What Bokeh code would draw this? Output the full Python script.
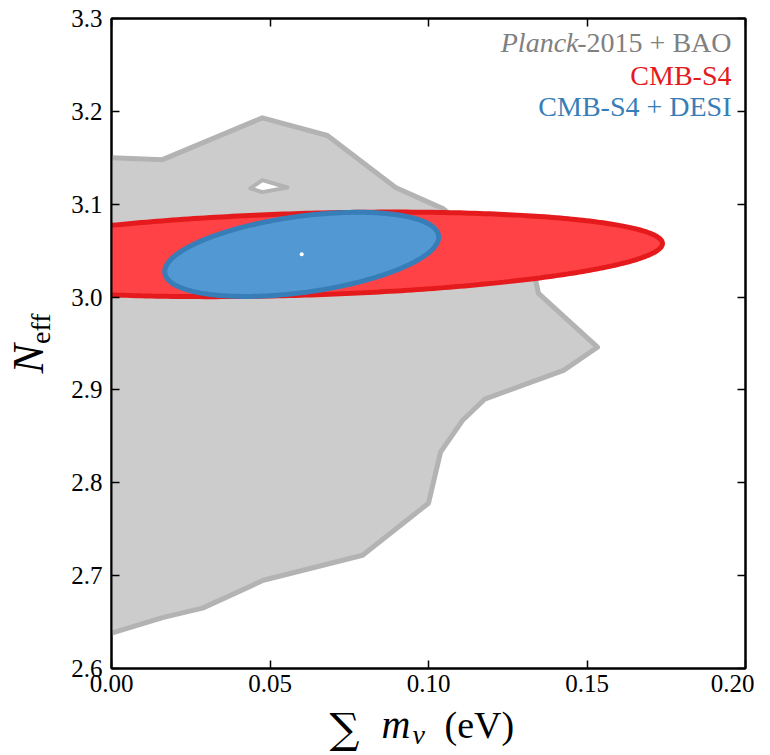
import numpy as np
from bokeh.plotting import figure
from bokeh.layouts import row, column
from bokeh.models import Range1d, FixedTicker, LinearAxis, Label, PrintfTickFormatter, CustomJSTickFormatter
from bokeh.embed import file_html
from bokeh.resources import INLINE

# ---------------- data ----------------
# Planck-2015 + BAO contour (outer boundary, closed along the x=0 axis)
planck_mnu = [0.0, 0.0161, 0.0476, 0.0681, 0.0896, 0.1047, 0.1338, 0.1347, 0.1533,
              0.1426, 0.1177, 0.1107, 0.1038, 0.1000, 0.0792, 0.0479, 0.0287, 0.0164, 0.0]
planck_neff = [3.150, 3.148, 3.193, 3.174, 3.118, 3.095, 3.018, 3.004, 2.946,
               2.921, 2.890, 2.867, 2.833, 2.778, 2.722, 2.695, 2.665, 2.655, 2.638]
# small island (hole) in the Planck contour
hole_mnu = [0.0438, 0.0476, 0.0555, 0.0476, 0.0438]
hole_neff = [3.117, 3.126, 3.118, 3.113, 3.117]

# fiducial point
fid_mnu = 0.060
fid_neff = 3.046

# forecast ellipses: half-extents along x and y, and correlation
s4_sx, s4_sy, s4_rho = 0.1138, 0.04553, 0.2569
desi_sx, desi_sy, desi_rho = 0.0432, 0.0453, 0.4103

x_ticks = [0.00, 0.05, 0.10, 0.15, 0.20]
y_ticks = [2.6, 2.7, 2.8, 2.9, 3.0, 3.1, 3.2, 3.3]
legend_texts = ["-2015 + BAO", "CMB-S4", "CMB-S4 + DESI"]
legend_italic = "Planck"

# ---------------- layout constants (page pixels) ----------------
X0, X1, Y0, Y1 = 0.0, 0.2, 2.6, 3.3
FL, FR, FT, FB = 111, 745, 18, 668   # plot frame
YLAB_W = 58                           # width of the y-label strip
MAIN_H = 703                          # height of the main figure
XLAB_H = 52                           # height of the x-label strip
TOTAL_W = 754


def px2x(px):
    return X0 + (px - FL) / (FR - FL) * (X1 - X0)


def px2y(py):
    return Y1 - (py - FT) / (FB - FT) * (Y1 - Y0)


def ellipse(cx, cy, sx, sy, rho, n=400):
    t = np.linspace(0, 2 * np.pi, n)
    x = cx + sx * np.cos(t)
    y = cy + sy * (rho * np.cos(t) + np.sqrt(1 - rho ** 2) * np.sin(t))
    return x, y


SERIF = "Liberation Serif"

p = figure(frame_width=FR - FL, frame_height=FB - FT,
           x_range=Range1d(X0, X1), y_range=Range1d(Y0, Y1),
           output_backend="svg", toolbar_location=None,
           min_border_left=FL - YLAB_W, min_border_right=TOTAL_W - FR,
           min_border_top=FT, min_border_bottom=MAIN_H - FB)
p.background_fill_color = "white"
p.border_fill_color = "white"
p.grid.visible = False
p.outline_line_color = "black"
p.outline_line_width = 2

for ax in (p.xaxis[0], p.yaxis[0]):
    ax.major_tick_in = 8
    ax.major_tick_out = 0
    ax.minor_tick_line_color = None
    ax.axis_line_width = 2
    ax.major_tick_line_width = 1.5
    ax.major_label_text_font = SERIF
    ax.major_label_text_font_size = "25px"
    ax.major_label_text_color = "black"
p.xaxis[0].ticker = FixedTicker(ticks=x_ticks)
p.yaxis[0].ticker = FixedTicker(ticks=y_ticks)
p.xaxis[0].formatter = PrintfTickFormatter(format="%.2f")
p.yaxis[0].formatter = PrintfTickFormatter(format="%.1f")
p.xaxis[0].major_label_standoff = 6
p.yaxis[0].major_label_standoff = 9

blank = CustomJSTickFormatter(code="return ''")
top_ax = LinearAxis(ticker=FixedTicker(ticks=x_ticks), formatter=blank,
                    major_tick_in=8, major_tick_out=0, minor_tick_line_color=None,
                    axis_line_width=2, major_tick_line_width=1.5, major_label_standoff=0)
right_ax = LinearAxis(ticker=FixedTicker(ticks=y_ticks), formatter=blank,
                      major_tick_in=8, major_tick_out=0, minor_tick_line_color=None,
                      axis_line_width=2, major_tick_line_width=1.5, major_label_standoff=0)
p.add_layout(top_ax, "above")
p.add_layout(right_ax, "right")

# Planck contour
p.patch(planck_mnu, planck_neff, fill_color="#cccccc", line_color=None)
p.line(planck_mnu, planck_neff, line_color="#b3b3b3", line_width=5, line_join="round")
p.patch(hole_mnu, hole_neff, fill_color="white", line_color="#b3b3b3", line_width=4,
        line_join="round")

# CMB-S4
ex, ey = ellipse(fid_mnu, fid_neff, s4_sx, s4_sy, s4_rho)
p.patch(ex, ey, fill_color="#ff4245", line_color="#e41a1c", line_width=5)
# CMB-S4 + DESI
bx, by = ellipse(fid_mnu, fid_neff, desi_sx, desi_sy, desi_rho)
p.patch(bx, by, fill_color="#5299d3", line_color="#377eb8", line_width=5)
p.scatter([fid_mnu], [fid_neff], size=4, color="white", line_color=None)

# legend texts (anchor = bottom of the text box)
lx = px2x(731)
common = dict(text_align="right", text_font=SERIF, text_font_size="28px")
p.add_layout(Label(x=lx, y=px2y(57), text=legend_texts[0], text_color="#808080", **common))
p.add_layout(Label(x=lx, y=px2y(57), x_offset=-153, text=legend_italic,
                   text_font_style="italic", text_color="#808080", **common))
p.add_layout(Label(x=lx, y=px2y(90), text=legend_texts[1], text_color="#e41a1c", **common))
p.add_layout(Label(x=lx, y=px2y(121), text=legend_texts[2], text_color="#377eb8", **common))


def strip(w, h):
    f = figure(width=w, height=h, x_range=Range1d(0, w), y_range=Range1d(0, h),
               output_backend="svg", toolbar_location=None,
               x_axis_location=None, y_axis_location=None,
               min_border=0, min_border_left=0, min_border_right=0,
               min_border_top=0, min_border_bottom=0)
    f.grid.visible = False
    f.outline_line_color = None
    f.background_fill_color = "white"
    f.border_fill_color = "white"
    return f


# y axis label strip: N_eff (rotated); coordinates are page pixels
ylab = strip(YLAB_W, MAIN_H)
ylab.add_layout(Label(x=52, y=MAIN_H - 384, text="N", angle=90, angle_units="deg",
                      text_font=SERIF, text_font_style="italic", text_font_size="44px",
                      text_color="black"))
ylab.add_layout(Label(x=55, y=MAIN_H - 352, text="eff", angle=90, angle_units="deg",
                      text_font=SERIF, text_font_size="28px", text_color="black"))

# x axis label strip: sum m_nu (eV); page y -> strip y = MAIN_H + XLAB_H - py
xlab = strip(TOTAL_W, XLAB_H)


def sy(py):
    return MAIN_H + XLAB_H - py


xlab.add_layout(Label(x=329, y=sy(752), text="\u2211", text_font="DejaVu Serif",
                      text_font_size="42px", text_color="black"))
xlab.add_layout(Label(x=381, y=sy(746), text="m", text_font=SERIF,
                      text_font_style="italic", text_font_size="40px", text_color="black"))
xlab.add_layout(Label(x=412, y=sy(749), text="\u03bd", text_font=SERIF,
                      text_font_style="italic", text_font_size="28px", text_color="black"))
xlab.add_layout(Label(x=444, y=sy(745), text="(eV)", text_font=SERIF,
                      text_font_size="38px", text_color="black"))

layout = column(row(ylab, p, spacing=0), xlab, spacing=0)
open("out.html", "w").write(file_html(layout, INLINE))
